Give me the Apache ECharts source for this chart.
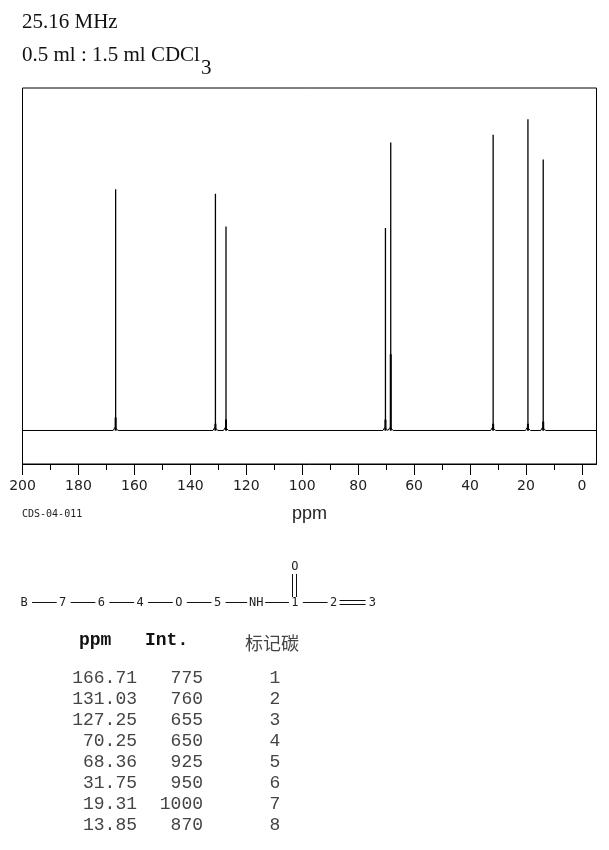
<!DOCTYPE html>
<html>
<head>
<meta charset="utf-8">
<style>
html, body { margin: 0; padding: 0; background: #fff; }
#chart { width: 609px; height: 850px; }
</style>
<script src="https://cdn.jsdelivr.net/npm/echarts@6/dist/echarts.min.js"></script>
</head>
<body>
<div id="chart"></div>
<script>
// peak table
var ppmValues = [166.71, 131.03, 127.25, 70.25, 68.36, 31.75, 19.31, 13.85];
var intValues = [775, 760, 655, 650, 925, 950, 1000, 870];
var carbonLabels = ["1", "2", "3", "4", "5", "6", "7", "8"];
// thicker lower part of each peak
var stubHeights = [42, 22, 35, 35, 245, 22, 22, 29];
var majorTicks = [200, 180, 160, 140, 120, 100, 80, 60, 40, 20, 0];
var minorTicks = [190, 170, 150, 130, 110, 90, 70, 50, 30, 10];
var chainLabels = ["B", "7", "6", "4", "O", "5", "NH", "1", "2", "3"];

var AXIS_MIN = -5.2, AXIS_MAX = 200;

var peakLine = [], stubLine = [], baseLine = [[AXIS_MAX, 0]];
ppmValues.forEach(function(ppm, i) {
    peakLine.push([ppm, 0], [ppm, intValues[i]], null);
    stubLine.push([ppm, 0], [ppm, stubHeights[i]], null);
    baseLine.push([ppm + 0.9, 0], [ppm + 0.25, 10], [ppm - 0.25, 10], [ppm - 0.9, 0]);
});
baseLine.push([AXIS_MIN, 0]);

function lineSeries(data, width) {
    return {
        type: "line",
        data: data,
        showSymbol: false,
        connectNulls: false,
        silent: true,
        lineStyle: { color: "#000", width: width },
        emphasis: { disabled: true }
    };
}

function txt(x, y, text, style) {
    return {
        type: "text",
        x: x,
        y: y,
        silent: true,
        style: Object.assign({ text: text, fill: "#222", textVerticalAlign: "middle" }, style)
    };
}

function bond(x1, y1, x2, y2) {
    return {
        type: "line",
        silent: true,
        shape: { x1: x1, y1: y1, x2: x2, y2: y2 },
        style: { stroke: "#111", lineWidth: 1 }
    };
}

var graphics = [];
var SERIF = "'Liberation Serif', serif";
var MONO = "'Liberation Mono', monospace";

// heading lines
graphics.push(txt(22, 22, "25.16 MHz", { font: "21px " + SERIF, fill: "#111" }));
graphics.push({
    type: "text",
    x: 22,
    y: 45,
    silent: true,
    style: {
        text: "{a|0.5 ml : 1.5 ml CDCl}{b|3}",
        rich: {
            a: { font: "21px " + SERIF, fill: "#111", verticalAlign: "top", lineHeight: 22 },
            b: { font: "21px " + SERIF, fill: "#111", padding: [12, 0, 0, 1], lineHeight: 34 }
        }
    }
});

graphics.push(txt(22, 514, "CDS-04-011", { font: "10px 'DejaVu Sans Mono', monospace" }));

// structure
var CHAIN_Y = 603, CHAIN_X0 = 24, CHAIN_STEP = 38.7;
var ATOM_FONT = "12px 'DejaVu Sans Mono', monospace";
chainLabels.forEach(function(label, i) {
    var cx = CHAIN_X0 + CHAIN_STEP * i;
    graphics.push(txt(cx, CHAIN_Y, label, { font: ATOM_FONT, textAlign: "center" }));
    if (i < chainLabels.length - 1 && i !== 8) {
        var gapR = label === "NH" ? 9 : 8;
        var gapL = chainLabels[i + 1] === "NH" ? 9 : 6;
        graphics.push(bond(cx + gapR, CHAIN_Y - 0.5, cx + CHAIN_STEP - gapL, CHAIN_Y - 0.5));
    }
});
var c2x = CHAIN_X0 + CHAIN_STEP * 8, c1x = CHAIN_X0 + CHAIN_STEP * 7;
graphics.push(bond(c2x + 6, 600.5, c2x + 32, 600.5));
graphics.push(bond(c2x + 6, 604.5, c2x + 32, 604.5));
graphics.push(txt(c1x, 567, "O", { font: ATOM_FONT, textAlign: "center" }));
graphics.push(bond(Math.round(c1x) - 2.5, 574, Math.round(c1x) - 2.5, 597));
graphics.push(bond(Math.round(c1x) + 1.5, 574, Math.round(c1x) + 1.5, 597));

// table
graphics.push(txt(79, 640, "ppm", { font: "bold 18px " + MONO, fill: "#111" }));
graphics.push(txt(145, 640, "Int.", { font: "bold 18px " + MONO, fill: "#111" }));
graphics.push(txt(245, 643, "标记碳", { font: "18px 'Noto Sans CJK SC', sans-serif", fill: "#444" }));
ppmValues.forEach(function(ppm, i) {
    var y = 678 + i * 21;
    graphics.push(txt(137, y, ppm.toFixed(2), { font: "18px " + MONO, textAlign: "right", fill: "#444" }));
    graphics.push(txt(203, y, String(intValues[i]), { font: "18px " + MONO, textAlign: "right", fill: "#444" }));
    graphics.push(txt(275, y, carbonLabels[i], { font: "18px " + MONO, textAlign: "center", fill: "#444" }));
});

var chart = echarts.init(document.getElementById("chart"), null, { renderer: "canvas" });
chart.setOption({
    animation: false,
    backgroundColor: "#fff",
    grid: {
        left: 22.5,
        right: 12.5,
        top: 88,
        height: 376,
        show: true,
        borderColor: "#000",
        borderWidth: 1,
        backgroundColor: "transparent"
    },
    xAxis: [
        {
            type: "value",
            inverse: true,
            min: AXIS_MIN,
            max: AXIS_MAX,
            position: "bottom",
            name: "ppm",
            nameLocation: "middle",
            nameGap: 41,
            nameTextStyle: { fontFamily: "'Liberation Sans', sans-serif", fontSize: 18, color: "#222" },
            splitLine: { show: false },
            axisLine: { show: true, onZero: false, lineStyle: { color: "#000", width: 1 } },
            axisTick: { show: true, length: 11, customValues: majorTicks, lineStyle: { color: "#000", width: 1 } },
            axisLabel: {
                show: true,
                customValues: majorTicks,
                margin: 15,
                fontFamily: "'DejaVu Sans', sans-serif",
                fontSize: 14,
                color: "#222",
                hideOverlap: false
            }
        },
        {
            type: "value",
            inverse: true,
            min: AXIS_MIN,
            max: AXIS_MAX,
            position: "bottom",
            splitLine: { show: false },
            axisLine: { show: false, onZero: false },
            axisTick: { show: true, length: 6, customValues: minorTicks, lineStyle: { color: "#000", width: 1 } },
            axisLabel: { show: false }
        }
    ],
    yAxis: {
        type: "value",
        min: -107.6,
        max: 1100,
        show: false
    },
    series: [
        lineSeries(baseLine, 1),
        lineSeries(peakLine, 1.3),
        lineSeries(stubLine, 2)
    ],
    graphic: { elements: graphics }
});
</script>
</body>
</html>
